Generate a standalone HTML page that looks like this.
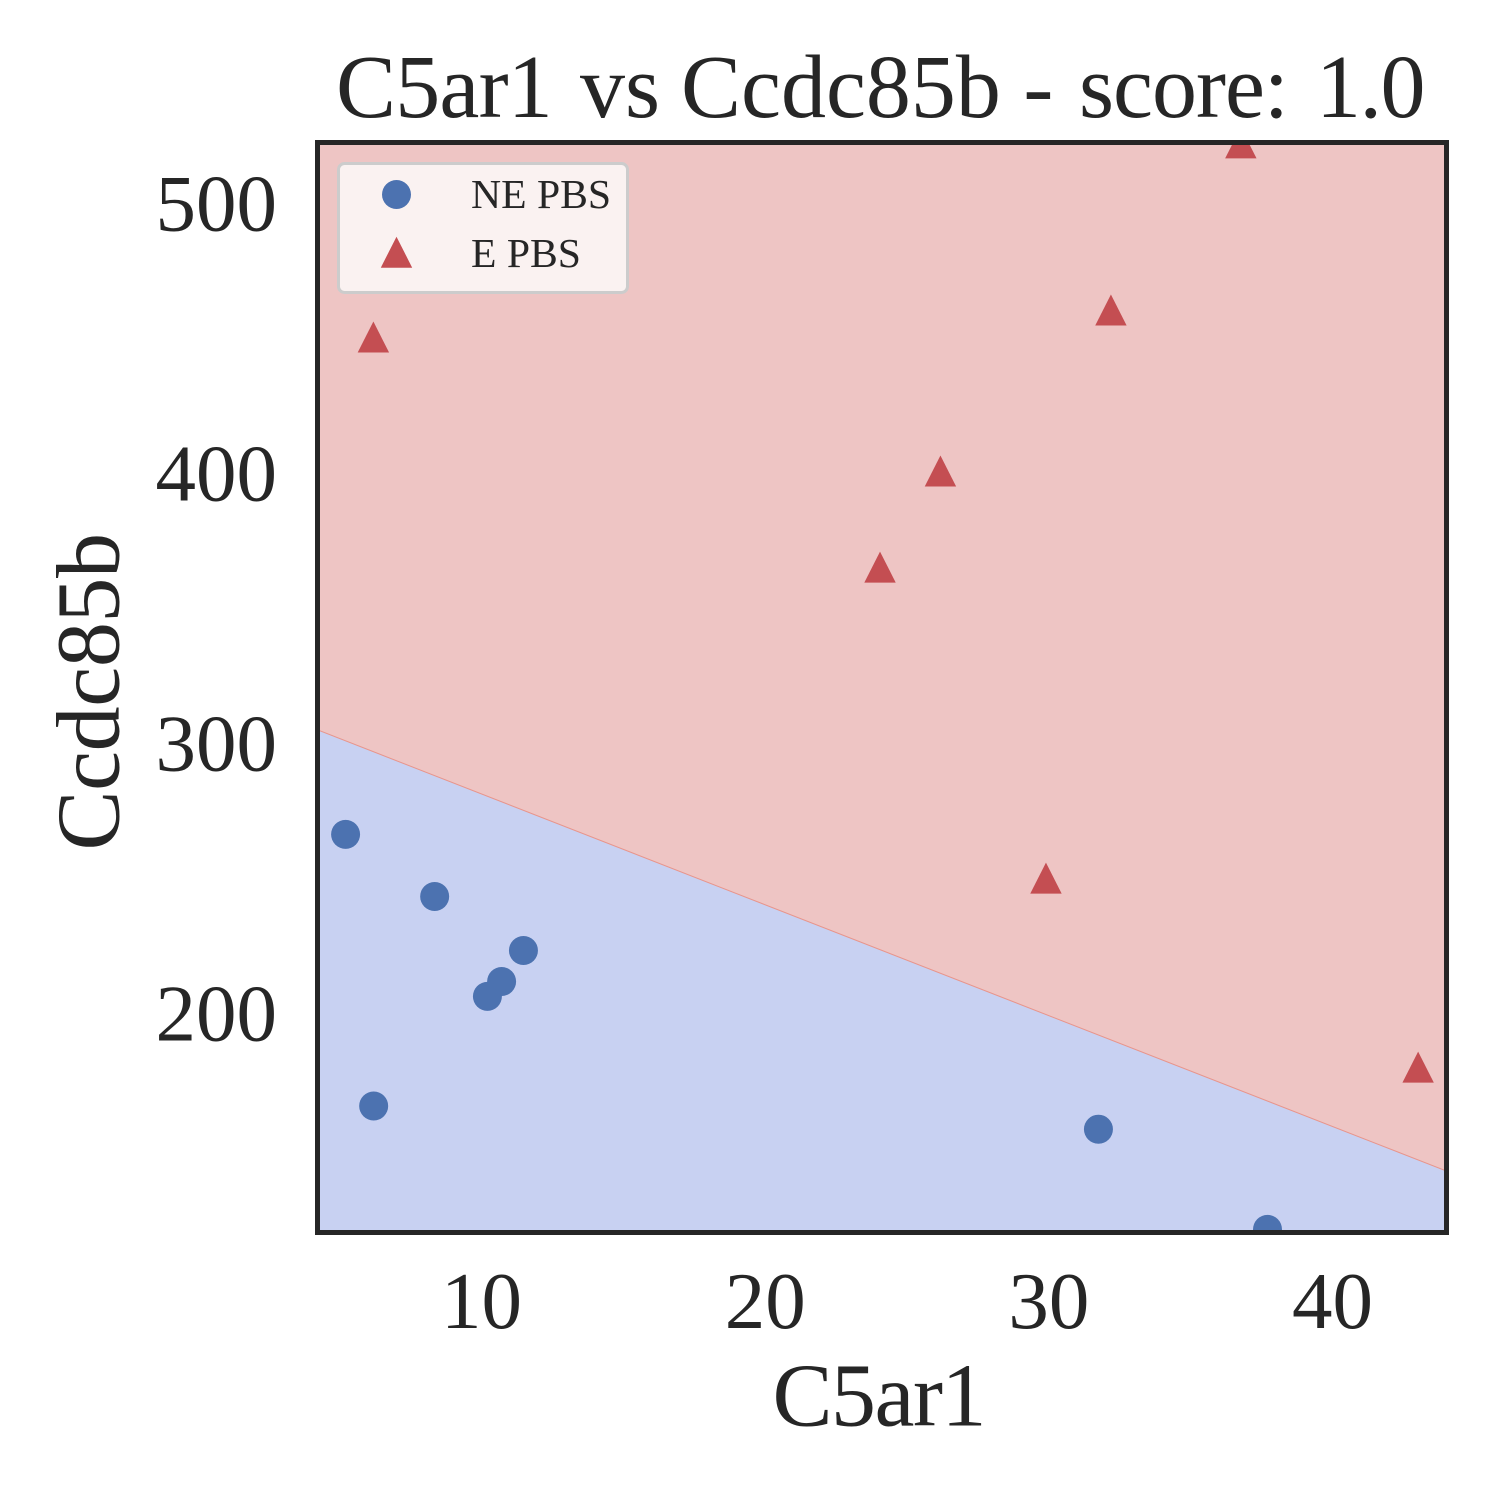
<!DOCTYPE html>
<html lang="en">
<head>
<meta charset="utf-8">
<title>C5ar1 vs Ccdc85b</title>
<style>
html,body{margin:0;padding:0;background:#fff;}
svg{display:block;}
text{font-family:"Liberation Serif","Times New Roman",serif;fill:#262626;}
</style>
</head>
<body>
<svg id="chart" xmlns="http://www.w3.org/2000/svg" width="1500" height="1500" viewBox="0 0 1500 1500">
  <defs>
    <clipPath id="plot-clip"><rect x="317.5" y="142.5" width="1129" height="1090"></rect></clipPath>
  </defs>
  <rect x="0" y="0" width="1500" height="1500" fill="#ffffff"></rect>
  <g id="regions" clip-path="url(#plot-clip)"></g>
  <g id="marks" clip-path="url(#plot-clip)"></g>
  <rect x="317.5" y="142.5" width="1129" height="1090" fill="none" stroke="#262626" stroke-width="5"></rect>
  <g id="ticks"></g>
  <text y="117" font-size="90"><tspan x="336" letter-spacing="-0.8">C5ar1</tspan> <tspan x="580">vs</tspan> <tspan x="681">Ccdc85b</tspan> <tspan x="1023.4">-</tspan> <tspan x="1079" letter-spacing="-1">score:</tspan> <tspan x="1316" letter-spacing="-1.5">1.0</tspan></text>
  <text x="772.5" y="1425.5" font-size="90" letter-spacing="-1.5">C5ar1</text>
  <text x="118.5" y="850.5" font-size="90" letter-spacing="-0.4" transform="rotate(-90 118.5 850.5)">Ccdc85b</text>
  <g>
    <rect x="338.5" y="163.5" width="289" height="129" rx="6" ry="6" fill="#faf2f1" stroke="#cccccc" stroke-width="3"></rect>
    <circle cx="396.5" cy="194.5" r="14.5" fill="#4c72b0"></circle>
    <text x="471" y="208" font-size="41.67">NE PBS</text>
    <polygon points="396.5,236.7 412.2,267.7 380.8,267.7" fill="#c44e52"></polygon>
    <text x="471" y="267" font-size="41.67">E PBS</text>
  </g>
</svg>
<script>
const xTickValues = [10, 20, 30, 40];
const yTickValues = [200, 300, 400, 500];
const xDomain = [4.2, 44.0];
const yDomain = [119.44, 523.15];
const boundaryValues = [305.6, 142.2];
const nePbsX = [5.19, 8.33, 11.46, 10.69, 10.19, 6.18, 31.73, 37.69];
const nePbsY = [266.9, 243.9, 223.9, 212.4, 206.9, 166.3, 157.7, 120.6];
const ePbsX = [6.17, 24.03, 26.16, 29.88, 32.17, 36.75, 43.0];
const ePbsY = [451.1, 365.9, 401.5, 250.7, 461.1, 523.0, 180.7];

const NS = 'http://www.w3.org/2000/svg';
const plotLeft = 317.5, plotRight = 1446.5, plotTop = 142.5, plotBottom = 1232.5;
function xScale(v) {
  return plotLeft + (v - xDomain[0]) / (xDomain[1] - xDomain[0]) * (plotRight - plotLeft);
}
function yScale(v) {
  return plotBottom - (v - yDomain[0]) / (yDomain[1] - yDomain[0]) * (plotBottom - plotTop);
}
function make(tag, attrs, parent) {
  const el = document.createElementNS(NS, tag);
  for (const k in attrs) el.setAttribute(k, attrs[k]);
  parent.appendChild(el);
  return el;
}

const regions = document.getElementById('regions');
const yAtLeft = yScale(boundaryValues[0]);
const yAtRight = yScale(boundaryValues[1]);
const redRegion = make('polygon', {
  points: plotLeft + ',' + plotTop + ' ' + plotRight + ',' + plotTop + ' ' + plotRight + ',' + yAtRight + ' ' + plotLeft + ',' + yAtLeft,
  fill: '#eec5c4'
}, regions);


const blueRegion = make('polygon', {
  points: plotLeft + ',' + yAtLeft + ' ' + plotRight + ',' + yAtRight + ' ' + plotRight + ',' + plotBottom + ' ' + plotLeft + ',' + plotBottom,
  fill: '#c8d1f2'
}, regions);


const boundary = make('line', {
  x1: plotLeft, y1: yAtLeft, x2: plotRight, y2: yAtRight,
  stroke: '#e8958c', 'stroke-width': 1
}, regions);



const marks = document.getElementById('marks');
nePbsX.forEach(function (v, i) {
  const c = make('circle', { cx: xScale(v), cy: yScale(nePbsY[i]), r: 14.5, fill: '#4c72b0' }, marks);
  
  
});
ePbsX.forEach(function (v, i) {
  const cx = xScale(v), cy = yScale(ePbsY[i]);
  const t = make('polygon', {
    points: cx + ',' + (cy - 15.5) + ' ' + (cx + 15.7) + ',' + (cy + 15.5) + ' ' + (cx - 15.7) + ',' + (cy + 15.5),
    fill: '#c44e52'
  }, marks);
  
  
});

const ticks = document.getElementById('ticks');
xTickValues.forEach(function (v) {
  const t = make('text', { x: xScale(v) - 0.5, y: 1328, 'font-size': 81, 'text-anchor': 'middle' }, ticks);
  
  
  t.textContent = String(v);
});
yTickValues.forEach(function (v) {
  const t = make('text', { x: 277, y: yScale(v) + 25.5, 'font-size': 81, 'text-anchor': 'end' }, ticks);
  
  
  t.textContent = String(v);
});
</script>
</body>
</html>
